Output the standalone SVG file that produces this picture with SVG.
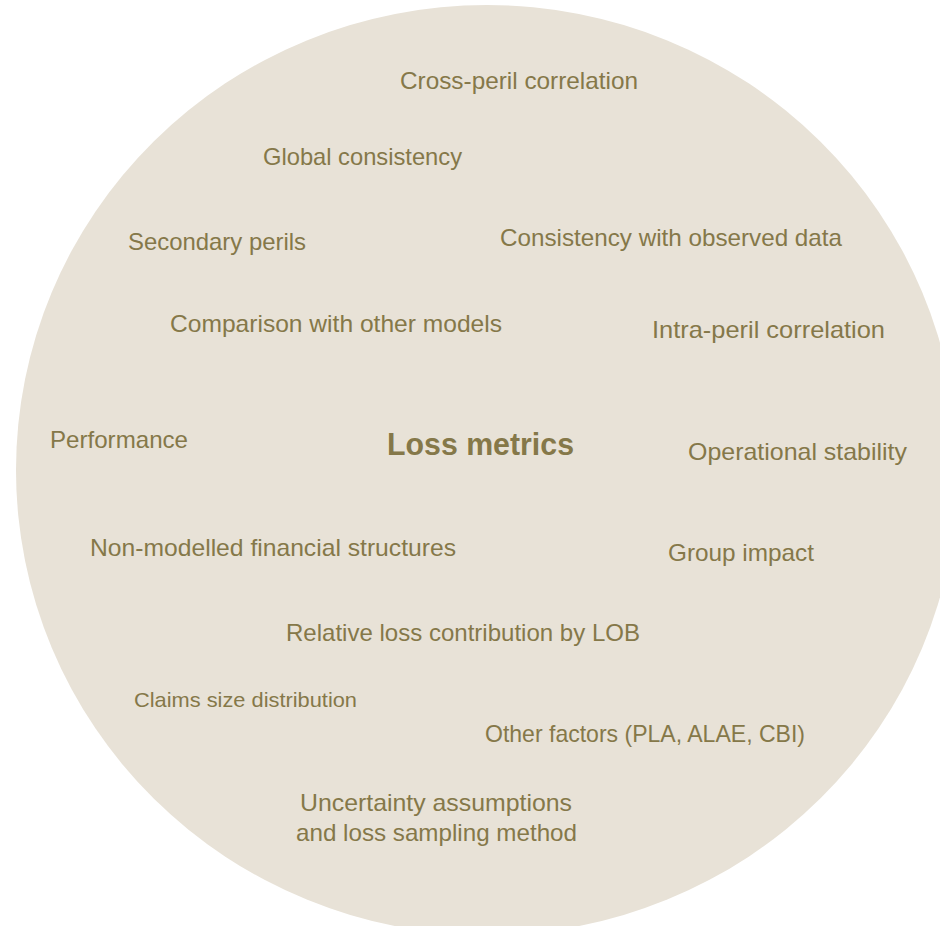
<svg xmlns="http://www.w3.org/2000/svg" width="940" height="926" viewBox="0 0 940 926">
<style>
.lbl{font-family:"Liberation Sans",Arial,sans-serif;font-size:24px;fill:#857849}
.sm{font-size:21px}
.title{font-family:"Liberation Sans",Arial,sans-serif;font-size:31px;font-weight:bold;fill:#857849}
</style>
<rect width="940" height="926" fill="#ffffff"/>
<g id="circle"><ellipse cx="487" cy="470" rx="471" ry="465" fill="#E8E2D7"/></g>
<g id="center"><text class="title" x="387" y="455" textLength="187" lengthAdjust="spacingAndGlyphs">Loss metrics</text></g>
<g id="n1"><text class="lbl" x="400" y="89" textLength="238" lengthAdjust="spacingAndGlyphs">Cross-peril correlation</text></g>
<g id="n2"><text class="lbl" x="263" y="165" textLength="199" lengthAdjust="spacingAndGlyphs">Global consistency</text></g>
<g id="n3"><text class="lbl" x="128" y="250" textLength="178" lengthAdjust="spacingAndGlyphs">Secondary perils</text></g>
<g id="n4"><text class="lbl" x="500" y="246" textLength="342" lengthAdjust="spacingAndGlyphs">Consistency with observed data</text></g>
<g id="n5"><text class="lbl" x="170" y="332" textLength="332" lengthAdjust="spacingAndGlyphs">Comparison with other models</text></g>
<g id="n6"><text class="lbl" x="652" y="338" textLength="233" lengthAdjust="spacingAndGlyphs">Intra-peril correlation</text></g>
<g id="n7"><text class="lbl" x="50" y="448" textLength="138" lengthAdjust="spacingAndGlyphs">Performance</text></g>
<g id="n8"><text class="lbl" x="688" y="460" textLength="219" lengthAdjust="spacingAndGlyphs">Operational stability</text></g>
<g id="n9"><text class="lbl" x="90" y="556" textLength="366" lengthAdjust="spacingAndGlyphs">Non-modelled financial structures</text></g>
<g id="n10"><text class="lbl" x="668" y="561" textLength="146" lengthAdjust="spacingAndGlyphs">Group impact</text></g>
<g id="n11"><text class="lbl" x="286" y="641" textLength="354" lengthAdjust="spacingAndGlyphs">Relative loss contribution by LOB</text></g>
<g id="n12"><text class="lbl sm" x="134" y="707" textLength="223" lengthAdjust="spacingAndGlyphs">Claims size distribution</text></g>
<g id="n13"><text class="lbl" x="485" y="742" textLength="320" lengthAdjust="spacingAndGlyphs">Other factors (PLA, ALAE, CBI)</text></g>
<g id="n14"><text class="lbl" x="300" y="811" textLength="272" lengthAdjust="spacingAndGlyphs">Uncertainty assumptions</text><text class="lbl" x="296" y="841" textLength="281" lengthAdjust="spacingAndGlyphs">and loss sampling method</text></g>
<g id="connectors"></g>
</svg>
